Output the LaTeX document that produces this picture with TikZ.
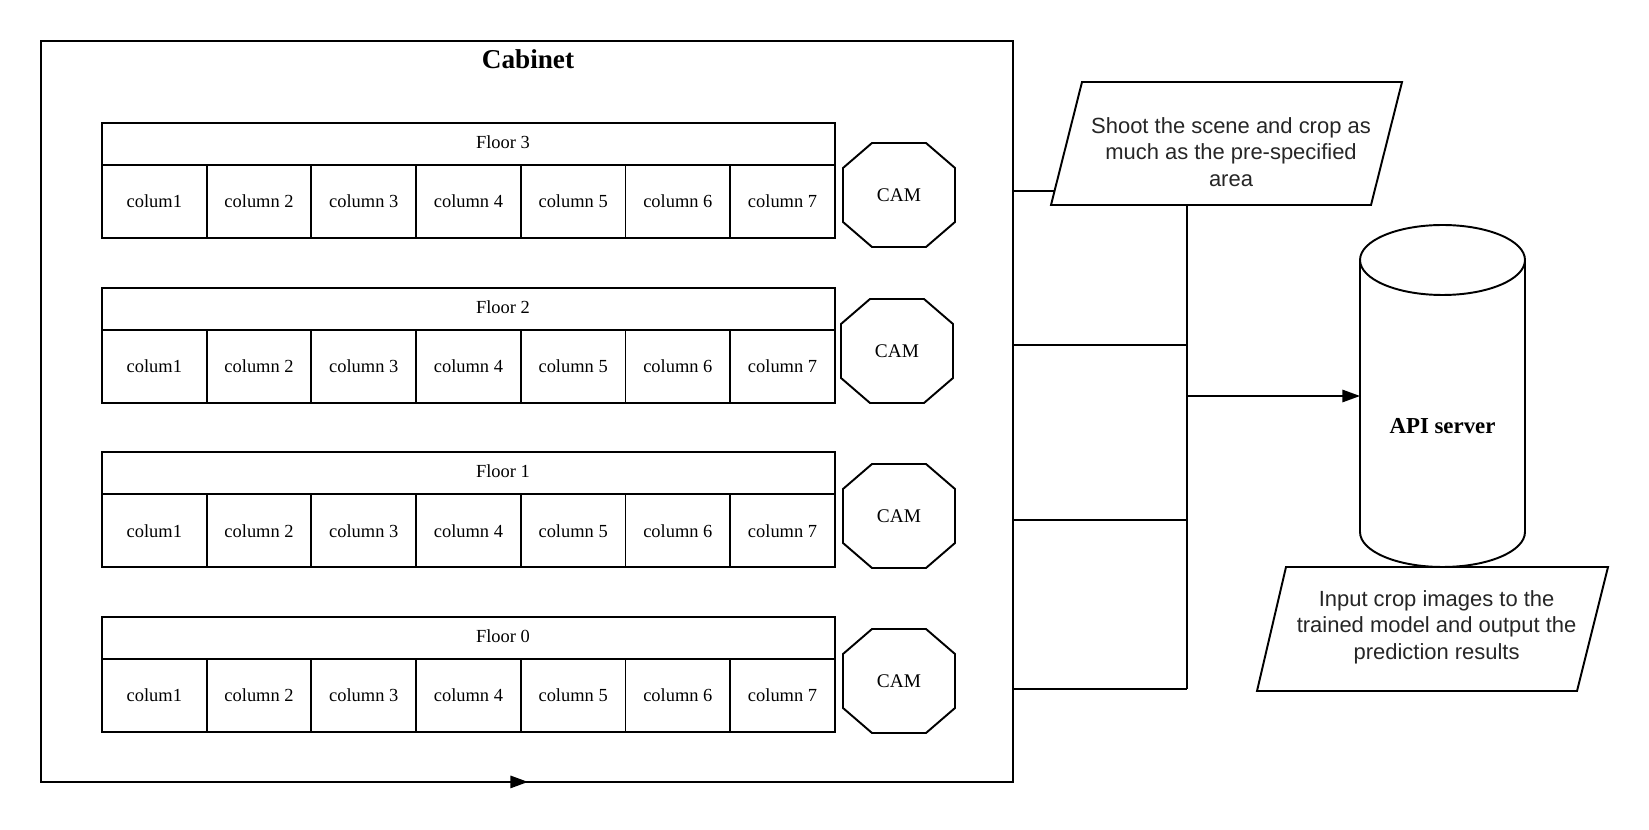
\documentclass[tikz,border=0pt]{standalone}
\usepackage{fontspec}
\setmainfont{Liberation Serif}
\setsansfont{Liberation Sans}
\usetikzlibrary{arrows.meta,calc}
\newcommand\camoct[3]{%
  \node[camtext] (#1) at (#2,#3) {CAM};
  \draw (#2,#3) ++(-27,-52) -- ++(54,0) -- ++(29,25) -- ++(0,54) -- ++(-29,25) -- ++(-54,0) -- ++(-29,-25) -- ++(0,-54) -- cycle;}
\begin{document}
\begin{tikzpicture}[x=0.02cm,y=-0.02cm, line width=1.1pt,
  cell/.style={draw, inner sep=0pt, outer sep=0pt, minimum width=2.094cm, minimum height=1.46cm, font=\fontsize{10.5}{12}\selectfont},
  header/.style={draw, inner sep=0pt, outer sep=0pt, minimum width=14.66cm, minimum height=0.84cm},
  lbl/.style={font=\fontsize{10.5}{12}\selectfont, inner sep=0pt},
  camtext/.style={font=\fontsize{11}{13}\selectfont, inner sep=0pt},
  sanstext/.style={font=\sffamily\fontsize{12.5}{15}\selectfont, align=center, text=black!85, inner sep=0pt},
  arr/.style={-{Triangle[length=10pt,width=7pt]}}
]
\useasboundingbox (0,0) rectangle (1649,830);
\fill[white] (0,0) rectangle (1649,830);

% cabinet
\node[draw, inner sep=0pt, outer sep=0pt, minimum width=19.44cm, minimum height=14.82cm] (cab) at (527,411.5) {};
\node[font=\bfseries\fontsize{15.5}{18}\selectfont, inner sep=0pt] (title) at (528,59) {Cabinet};
\draw[arr] ($(cab.south)+(-22,0)$) -- ($(cab.south)+(1,0)$);

% floors
\foreach \f/\t in {3/123, 2/287.7, 1/452.4, 0/617.1} {
  \node[header] (h\f) at ({468.5},{\t+21}) {};
  \node[lbl] (fl\f) at ({503},{\t+19}) {Floor \f};
  \foreach \c/\name in {1/colum1,2/column 2,3/column 3,4/column 4,5/column 5,6/column 6,7/column 7}
    \node[cell] (f\f-\c) at ({102+104.7*(\c-0.5)},{\t+78.5}) {\name};
}

% cameras
\camoct{cam3}{899}{195}
\camoct{cam2}{897}{351}
\camoct{cam1}{899}{516}
\camoct{cam0}{899}{681}

% shoot parallelogram
\node[sanstext] (shoot) at (1231,152) {Shoot the scene and crop as\\much as the pre-specified\\area};
\draw (1051,205) -- (1371,205) -- (1402,82) -- (1082,82) -- cycle;
\coordinate (p1left) at (1054.5,191);
\coordinate (p1bus) at (1187,205);

% API server cylinder
\node[font=\bfseries\fontsize{13}{15}\selectfont, inner sep=0pt, outer sep=0pt, minimum width=3.3cm, minimum height=1cm] (api) at (1442.5,426) {API server};
\draw (1360,260) -- (1360,532) arc[start angle=180, end angle=360, x radius=1.65cm, y radius=0.7cm] -- (1525,260);
\draw (1442.5,260) ellipse [x radius=1.65cm, y radius=0.7cm];

% input parallelogram
\node[sanstext] (input) at (1436.6,627) {Input crop images to the\\trained model and output the\\prediction results};
\draw (1257,691) -- (1577,691) -- (1608,567) -- (1286,567) -- cycle;

% connectors
\coordinate (bus0) at (1187,689);
\coordinate (bus1) at (1187,520);
\coordinate (bus2) at (1187,345);
\coordinate (busA) at (1187,396);
\draw[line width=1.5pt] (cab.east |- p1left) -- (p1left);
\draw (p1bus) -- (bus0);
\draw (cab.east |- bus2) -- (bus2);
\draw (cab.east |- bus1) -- (bus1);
\draw (cab.east |- bus0) -- (bus0);
\draw[arr] (busA) -- (api.west |- busA);
\end{tikzpicture}
\end{document}
